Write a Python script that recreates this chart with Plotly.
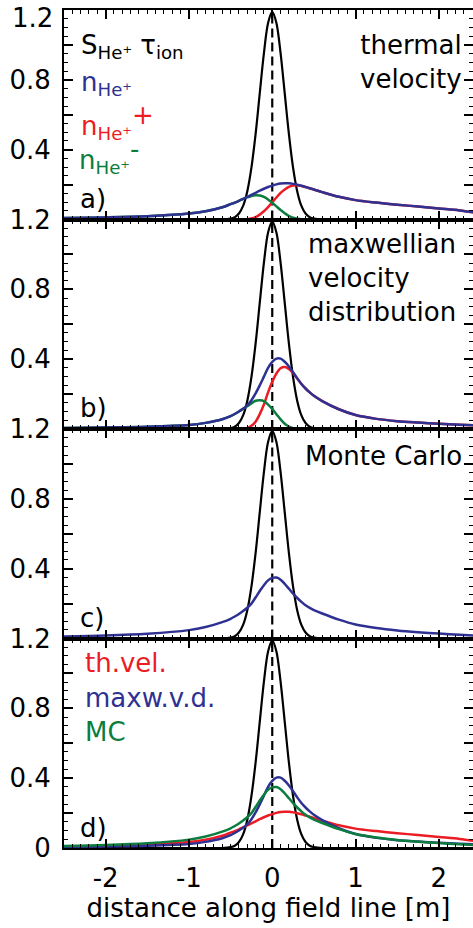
import plotly.graph_objects as go
from plotly.subplots import make_subplots

# ---------------- data ----------------
xs = [-2.5, -2.0, -1.5, -1.0, -0.8, -0.6, -0.5, -0.45, -0.4, -0.35, -0.3, -0.25, -0.2, -0.15,
      -0.1, -0.05, 0.0, 0.05, 0.1, 0.15, 0.2, 0.25, 0.3, 0.35, 0.4, 0.45, 0.5, 0.6, 0.8, 1.0,
      1.25, 1.5, 1.75, 2.0, 2.25, 2.5]

source_tau = [0, 0, 0, 0, 0, 0, 0.005, 0.013, 0.034, 0.078, 0.161, 0.297, 0.489, 0.722,
              0.953, 1.126, 1.19, 1.126, 0.953, 0.722, 0.489, 0.297, 0.161, 0.078, 0.034, 0.013,
              0.005, 0, 0, 0, 0, 0, 0, 0, 0, 0]

# a) thermal velocity
a_total = [0.008, 0.012, 0.019, 0.034, 0.047, 0.070, 0.088, 0.097, 0.107, 0.118, 0.129, 0.141,
           0.153, 0.165, 0.176, 0.186, 0.194, 0.201, 0.206, 0.208, 0.207, 0.204, 0.199, 0.193,
           0.186, 0.179, 0.172, 0.157, 0.130, 0.111, 0.097, 0.085, 0.074, 0.063, 0.052, 0.036]
a_plus = [0, 0, 0, 0, 0, 0, 0, 0, 0, 0.0, 0.002, 0.006, 0.014, 0.028, 0.047, 0.071, 0.098, 0.126,
          0.152, 0.172, 0.187, 0.194, 0.196, 0.192, 0.186, 0.179, 0.172, 0.157, 0.130, 0.111,
          0.097, 0.085, 0.074, 0.063, 0.052, 0.036]
a_minus = [0.008, 0.012, 0.019, 0.034, 0.047, 0.070, 0.088, 0.097, 0.107, 0.118, 0.127, 0.135,
           0.139, 0.137, 0.129, 0.115, 0.096, 0.075, 0.054, 0.036, 0.020, 0.010, 0.004, 0.001,
           0, 0, 0, 0, 0, 0, 0, 0, 0, 0, 0, 0]

# b) maxwellian velocity distribution
b_total = [0.006, 0.009, 0.013, 0.023, 0.035, 0.056, 0.074, 0.086, 0.100, 0.116, 0.135, 0.165,
           0.204, 0.250, 0.300, 0.350, 0.385, 0.403, 0.403, 0.385, 0.358, 0.325, 0.290, 0.258,
           0.232, 0.210, 0.190, 0.160, 0.113, 0.080, 0.058, 0.045, 0.037, 0.030, 0.025, 0.020]
b_plus = [0, 0, 0, 0, 0, 0, 0, 0, 0, 0, 0.005, 0.018, 0.042, 0.085, 0.140, 0.210, 0.270, 0.318,
          0.348, 0.355, 0.344, 0.320, 0.289, 0.258, 0.232, 0.210, 0.190, 0.160, 0.113, 0.080,
          0.058, 0.045, 0.037, 0.030, 0.025, 0.020]
b_minus = [0.006, 0.009, 0.013, 0.023, 0.035, 0.056, 0.074, 0.086, 0.100, 0.116, 0.130, 0.147,
           0.162, 0.165, 0.160, 0.140, 0.115, 0.085, 0.055, 0.030, 0.014, 0.005, 0.001, 0,
           0, 0, 0, 0, 0, 0, 0, 0, 0, 0, 0, 0]

# c) Monte Carlo
c_total = [0.012, 0.017, 0.027, 0.048, 0.066, 0.094, 0.113, 0.126, 0.140, 0.157, 0.176, 0.200,
           0.235, 0.272, 0.305, 0.333, 0.347, 0.349, 0.337, 0.313, 0.285, 0.257, 0.232, 0.210,
           0.190, 0.175, 0.163, 0.143, 0.108, 0.080, 0.060, 0.046, 0.036, 0.028, 0.021, 0.016]

x_ticks = [-2, -1, 0, 1, 2]
x_ticktext = ["-2", "-1", "0", "1", "2"]
y_ticks = [0, 0.2, 0.4, 0.6, 0.8, 1.0, 1.2]
y_ticktext_top = ["", "", "0.4", "", "0.8", "", ""]
y_ticktext_upper = ["", "", "0.4", "", "0.8", "", "1.2"]
y_ticktext_bottom = ["0", "", "0.4", "", "0.8", "", "1.2"]
top_label = "1.2"
center_line_y = [0, 1.2]
center_line_x = [0, 0]

# ---------------- style ----------------
RED = "#ec1c24"
BLUE = "#2e3192"
GREEN = "#0b7d3e"
BLACK = "#000000"
FONT = "DejaVu Sans"
FS = 26

W, H = 473, 928
ML, MR, MT, MB = 64, 0, 10, 80


def px(xp):
    return (xp - ML) / (W - ML - MR)


def py(yp):
    return (H - MB - yp) / (H - MT - MB)


fig = make_subplots(rows=4, cols=1, shared_xaxes=True, vertical_spacing=0)


def add_line(row, y, color, width=2.5, dash=None):
    fig.add_trace(go.Scatter(x=xs, y=y, mode="lines",
                             line=dict(color=color, width=width, shape="spline", smoothing=0.9,
                                       dash=dash),
                             showlegend=False, hoverinfo="skip"), row=row, col=1)


for r in range(1, 5):
    add_line(r, source_tau, BLACK, width=2.2)
    fig.add_trace(go.Scatter(x=center_line_x, y=center_line_y, mode="lines",
                             line=dict(color=BLACK, width=2.2, dash="9px,5px"),
                             showlegend=False, hoverinfo="skip"), row=r, col=1)

add_line(1, a_plus, RED)
add_line(1, a_minus, GREEN)
add_line(1, a_total, BLUE)

add_line(2, b_plus, RED)
add_line(2, b_minus, GREEN)
add_line(2, b_total, BLUE)

add_line(3, c_total, BLUE)

add_line(4, a_total, RED)
add_line(4, b_total, BLUE)
add_line(4, c_total, GREEN)

for r in range(1, 5):
    if r == 1:
        ytt = y_ticktext_top
    elif r == 4:
        ytt = y_ticktext_bottom
    else:
        ytt = y_ticktext_upper
    fig.update_xaxes(row=r, col=1, range=[-2.5, 2.41], tickvals=x_ticks, ticktext=x_ticktext,
                     ticks="inside", ticklen=9, tickwidth=1.5, tickcolor=BLACK,
                     showline=True, linewidth=2, linecolor=BLACK, mirror="ticks",
                     showgrid=False, zeroline=False, automargin=False,
                     ticklabeloverflow="allow",
                     minor=dict(dtick=0.1, ticks="inside", ticklen=4, tickwidth=1.2,
                                tickcolor=BLACK, showgrid=False),
                     tickfont=dict(family=FONT, size=FS, color=BLACK),
                     showticklabels=(r == 4))
    fig.update_yaxes(row=r, col=1, range=[0, 1.2], tickvals=y_ticks, ticktext=ytt,
                     ticks="inside", ticklen=9, tickwidth=1.5, tickcolor=BLACK,
                     showline=True, linewidth=2, linecolor=BLACK, mirror="ticks",
                     showgrid=False, zeroline=False, automargin=False,
                     ticklabeloverflow="allow",
                     minor=dict(dtick=0.05, ticks="inside", ticklen=4, tickwidth=1.2,
                                tickcolor=BLACK, showgrid=False),
                     tickfont=dict(family=FONT, size=FS, color=BLACK),
                     ticklabelstandoff=6)

fig.update_xaxes(row=4, col=1, ticklabelstandoff=6,
                 title=dict(text="distance along field line [m]",
                            font=dict(family=FONT, size=FS, color=BLACK), standoff=2))


def note(text, xp, yp, color=BLACK, xanchor="left", align="left"):
    fig.add_annotation(text=text, x=px(xp), y=py(yp), xref="paper", yref="paper",
                       xanchor=xanchor, yanchor="middle", align=align, showarrow=False,
                       font=dict(family=FONT, size=FS, color=color))


# top "1.2" label of panel a (sits slightly below the frame top, as in the reference)
note(top_label, 55, 18, xanchor="right", align="right")

# panel a
note("S<sub>He⁺</sub> τ<sub>ion</sub>", 79, 46)
note("n<sub>He⁺</sub>", 79, 84, BLUE)
note("n<sub>He⁺</sub><sup><span style='font-size:26px'>+</span></sup>", 79, 122, RED)
note("n<sub>He⁺</sub><sup><span style='font-size:26px'>-</span></sup>", 77, 156, GREEN)
note("a)", 78, 199)
note("thermal<br>velocity", 464, 62, xanchor="right", align="right")
# panel b
note("maxwellian<br>velocity<br>distribution", 306, 278)
note("b)", 78, 408)
# panel c
note("Monte Carlo", 464, 456, xanchor="right", align="right")
note("c)", 78, 618)
# panel d
note("th.vel.", 83, 663, RED)
note("maxw.v.d.", 83, 698, BLUE)
note("MC", 83, 732, GREEN)
note("d)", 78, 828)

fig.update_layout(width=W, height=H, margin=dict(l=ML, r=MR, t=MT, b=MB, autoexpand=False),
                  paper_bgcolor="white", plot_bgcolor="white",
                  font=dict(family=FONT, size=FS, color=BLACK), showlegend=False)

fig.write_html("out.html", config={"displayModeBar": False},
               post_script="document.body.style.margin='0';")
